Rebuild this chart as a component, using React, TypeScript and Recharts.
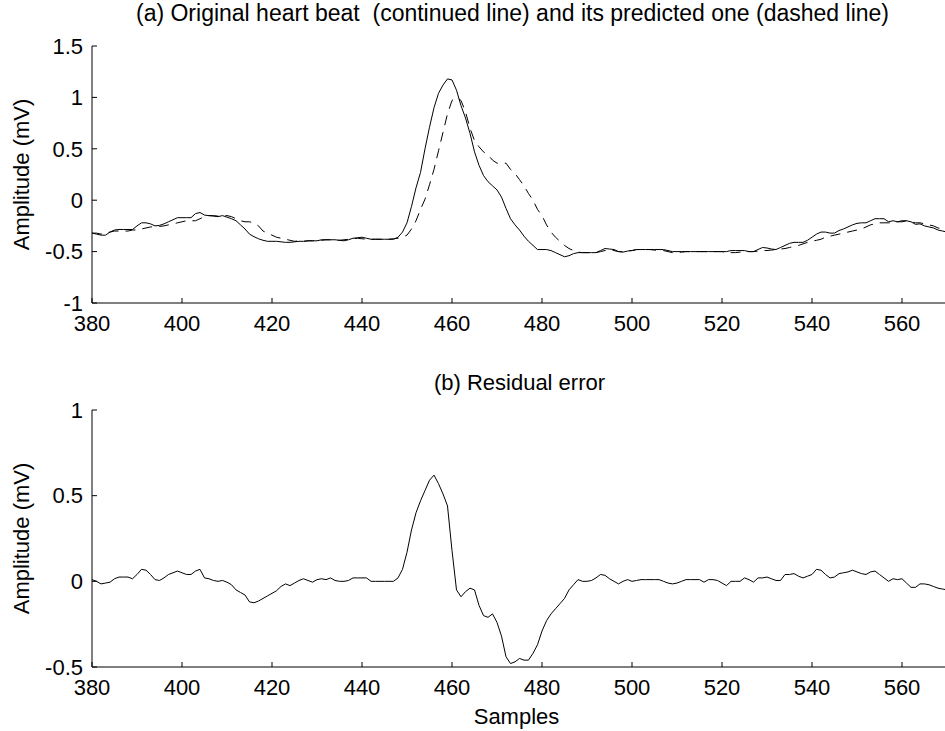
import React from 'react';
import { LineChart, Line, XAxis, YAxis } from 'recharts';

const FONT = '"Liberation Sans", Arial, Helvetica, sans-serif';

const FIRST_SAMPLE = 380;
const xTicks = [380, 400, 420, 440, 460, 480, 500, 520, 540, 560];
const topYTicks = [-1, -0.5, 0, 0.5, 1, 1.5];
const bottomYTicks = [-0.5, 0, 0.5, 1];

const titleTop = '(a) Original heart beat  (continued line) and its predicted one (dashed line)';
const titleBottom = '(b) Residual error';
const yLabelText = 'Amplitude (mV)';
const xLabelText = 'Samples';

// samples 380..570
const originalBeat = [
  -0.32, -0.33, -0.34, -0.34, -0.31, -0.29, -0.285, -0.285, -0.285, -0.285,
  -0.25, -0.22, -0.22, -0.23, -0.25, -0.245, -0.23, -0.21, -0.19, -0.17,
  -0.17, -0.17, -0.17, -0.13, -0.12, -0.145, -0.15, -0.155, -0.16, -0.15,
  -0.165, -0.18, -0.2, -0.24, -0.28, -0.33, -0.355, -0.375, -0.39, -0.4,
  -0.4, -0.4, -0.405, -0.41, -0.41, -0.405, -0.4, -0.4, -0.395, -0.395,
  -0.395, -0.385, -0.385, -0.385, -0.385, -0.39, -0.395, -0.385, -0.37, -0.365,
  -0.36, -0.37, -0.38, -0.38, -0.38, -0.38, -0.38, -0.38, -0.36, -0.31,
  -0.22, -0.06, 0.12, 0.27, 0.5, 0.71, 0.9, 1.04, 1.12, 1.18,
  1.17, 1.07, 0.92, 0.8, 0.65, 0.47, 0.34, 0.24, 0.18, 0.14,
  0.1, 0.03, -0.08, -0.18, -0.24, -0.29, -0.35, -0.4, -0.44, -0.48,
  -0.48, -0.48, -0.49, -0.51, -0.53, -0.55, -0.54, -0.52, -0.51, -0.51,
  -0.51, -0.51, -0.51, -0.49, -0.47, -0.475, -0.48, -0.5, -0.505, -0.495,
  -0.49, -0.48, -0.48, -0.48, -0.48, -0.48, -0.48, -0.48, -0.49, -0.5,
  -0.5, -0.5, -0.5, -0.5, -0.5, -0.5, -0.5, -0.5, -0.5, -0.5,
  -0.5, -0.5, -0.49, -0.49, -0.49, -0.49, -0.5, -0.5, -0.48, -0.46,
  -0.465, -0.475, -0.48, -0.46, -0.44, -0.42, -0.41, -0.41, -0.41, -0.39,
  -0.36, -0.33, -0.31, -0.31, -0.32, -0.32, -0.295, -0.28, -0.26, -0.24,
  -0.225, -0.22, -0.22, -0.2, -0.18, -0.18, -0.18, -0.21, -0.2, -0.21,
  -0.2, -0.2, -0.21, -0.235, -0.23, -0.25, -0.26, -0.27, -0.29, -0.3,
  -0.31,
];

const predictedBeat = [
  -0.32, -0.32, -0.33, -0.32, -0.31, -0.3, -0.3, -0.3, -0.3, -0.29,
  -0.29, -0.28, -0.27, -0.26, -0.26, -0.255, -0.25, -0.24, -0.23, -0.22,
  -0.21, -0.2, -0.2, -0.2, -0.18, -0.16, -0.15, -0.15, -0.155, -0.15,
  -0.15, -0.16, -0.18, -0.2, -0.21, -0.21, -0.22, -0.25, -0.3, -0.32,
  -0.34, -0.36, -0.37, -0.38, -0.39, -0.4, -0.395, -0.4, -0.395, -0.395,
  -0.39, -0.39, -0.385, -0.385, -0.39, -0.39, -0.385, -0.38, -0.375, -0.37,
  -0.375, -0.38, -0.38, -0.38, -0.38, -0.38, -0.38, -0.375, -0.37, -0.36,
  -0.34, -0.28, -0.2, -0.09, 0.01, 0.15, 0.3, 0.48, 0.66, 0.84,
  0.97, 1.0, 0.97, 0.86, 0.7, 0.58, 0.52, 0.47, 0.44, 0.39,
  0.36, 0.36, 0.36, 0.3, 0.26, 0.2, 0.14, 0.065, 0, -0.09,
  -0.15, -0.24, -0.31, -0.36, -0.4, -0.44, -0.47, -0.49, -0.505, -0.51,
  -0.51, -0.51, -0.51, -0.5, -0.49, -0.48, -0.49, -0.5, -0.5, -0.49,
  -0.49, -0.48, -0.48, -0.48, -0.48, -0.485, -0.49, -0.49, -0.5, -0.51,
  -0.51, -0.505, -0.5, -0.5, -0.5, -0.5, -0.5, -0.5, -0.5, -0.5,
  -0.5, -0.51, -0.51, -0.51, -0.505, -0.5, -0.5, -0.5, -0.495, -0.49,
  -0.49, -0.485, -0.48, -0.475, -0.47, -0.46, -0.45, -0.44, -0.425, -0.41,
  -0.4, -0.39, -0.38, -0.36, -0.35, -0.34, -0.33, -0.32, -0.31, -0.3,
  -0.29, -0.28, -0.26, -0.24, -0.23, -0.22, -0.22, -0.22, -0.22, -0.21,
  -0.21, -0.2, -0.21, -0.22, -0.22, -0.23, -0.24, -0.25, -0.27, -0.28,
  -0.29,
];

const residualError = [
  0.01, 0, -0.015, -0.01, -0.005, 0.015, 0.025, 0.025, 0.025, 0.015,
  0.04, 0.07, 0.065, 0.04, 0.01, 0.005, 0.02, 0.04, 0.05, 0.06,
  0.05, 0.04, 0.04, 0.06, 0.07, 0.02, 0.015, 0.005, 0, 0.005,
  -0.005, -0.02, -0.05, -0.065, -0.08, -0.12, -0.125, -0.115, -0.1, -0.085,
  -0.07, -0.055, -0.03, -0.015, -0.025, -0.01, 0.005, 0.015, 0.005, -0.005,
  0.01, 0.015, 0.01, 0.02, 0.005, 0, 0, 0.005, 0.02, 0.02,
  0.02, 0.02, 0, 0, 0, 0, 0, 0, 0.02, 0.07,
  0.17, 0.3, 0.4, 0.47, 0.53, 0.59, 0.62, 0.57, 0.51, 0.44,
  0.18, -0.05, -0.09, -0.06, -0.04, -0.05, -0.14, -0.2, -0.21, -0.19,
  -0.24, -0.32, -0.44, -0.48, -0.47, -0.45, -0.46, -0.46, -0.42, -0.37,
  -0.29, -0.23, -0.19, -0.16, -0.13, -0.1, -0.05, -0.02, 0.01, 0,
  0, 0.005, 0.02, 0.04, 0.035, 0.015, 0, -0.015, 0, 0.01,
  0, 0.005, 0.01, 0.01, 0.01, 0.01, 0.01, 0, -0.01, -0.015,
  -0.01, 0, 0.01, 0.01, 0.01, 0.01, -0.005, 0.01, 0.01, 0.005,
  -0.01, -0.025, 0, 0, 0, 0.02, 0.01, -0.005, 0.02, 0.02,
  0.025, 0.015, 0.005, 0.005, 0.04, 0.04, 0.045, 0.03, 0.02, 0.03,
  0.04, 0.07, 0.065, 0.04, 0.02, 0.025, 0.045, 0.05, 0.055, 0.065,
  0.055, 0.045, 0.04, 0.055, 0.06, 0.04, 0.02, 0, 0.015, 0.01,
  0.015, -0.01, -0.035, -0.035, -0.015, -0.015, -0.02, -0.03, -0.04, -0.045,
  -0.05,
];

const topData = originalBeat.map((v, i) => ({
  sample: FIRST_SAMPLE + i,
  original: v,
  predicted: predictedBeat[i],
}));
const bottomData = residualError.map((v, i) => ({ sample: FIRST_SAMPLE + i, residual: v }));

const tickStyle = { fill: '#000', fontSize: 22, fontFamily: FONT };
const lineStyle = { stroke: '#000', strokeWidth: 1 };

const YLabel = (props: any) => {
  const vb = props.viewBox || { x: 0, y: 0, width: 92, height: 257 };
  const cx = vb.x + 21;
  const cy = vb.y + vb.height / 2;
  return (
    <text
      x={cx}
      y={cy}
      transform={`rotate(-90, ${cx}, ${cy})`}
      textAnchor="middle"
      dominantBaseline="central"
      fill="#000"
      fontSize={22}
      fontFamily={FONT}
    >
      {yLabelText}
    </text>
  );
};

const XLabel = (props: any) => {
  const vb = props.viewBox || { x: 92, y: 327, width: 855, height: 64 };
  return (
    <text
      x={vb.x + vb.width / 2 - 3}
      y={vb.y + 57}
      textAnchor="middle"
      fill="#000"
      fontSize={22}
      fontFamily={FONT}
    >
      {xLabelText}
    </text>
  );
};

const titleStyle: React.CSSProperties = {
  position: 'absolute',
  left: 92,
  width: 855,
  textAlign: 'center',
  fontFamily: FONT,
  fontSize: 22,
  lineHeight: '26px',
  color: '#000',
  whiteSpace: 'pre',
};

export default function App() {
  return (
    <div
      style={{
        position: 'absolute',
        left: 0,
        top: 0,
        width: 945,
        height: 731,
        overflow: 'hidden',
        background: '#fff',
      }}
    >
      <div style={{ ...titleStyle, top: 0, left: 85, fontSize: 23 }}>{titleTop}</div>
      <div style={{ position: 'absolute', left: 0, top: 0 }}>
        <LineChart width={947} height={340} data={topData} margin={{ top: 46, right: 0, bottom: 0, left: 0 }}>
          <XAxis
            dataKey="sample"
            type="number"
            domain={[380, 570]}
            ticks={xTicks}
            interval={0}
            height={37}
            tickSize={-5}
            tickMargin={17}
            tick={tickStyle}
            axisLine={lineStyle}
            tickLine={lineStyle}
          />
          <YAxis
            type="number"
            domain={[-1, 1.5]}
            ticks={topYTicks}
            interval={0}
            width={92}
            tickSize={-5}
            tickMargin={14}
            tick={tickStyle}
            axisLine={lineStyle}
            tickLine={lineStyle}
            label={<YLabel />}
          />
          <Line
            type="linear"
            dataKey="predicted"
            stroke="#000"
            strokeWidth={1}
            strokeDasharray="10 7"
            dot={false}
            activeDot={false}
            isAnimationActive={false}
          />
          <Line
            type="linear"
            dataKey="original"
            stroke="#000"
            strokeWidth={1}
            dot={false}
            activeDot={false}
            isAnimationActive={false}
          />
        </LineChart>
      </div>
      <div style={{ ...titleStyle, top: 370 }}>{titleBottom}</div>
      <div style={{ position: 'absolute', left: 0, top: 340 }}>
        <LineChart width={947} height={391} data={bottomData} margin={{ top: 70, right: 0, bottom: 0, left: 0 }}>
          <XAxis
            dataKey="sample"
            type="number"
            domain={[380, 570]}
            ticks={xTicks}
            interval={0}
            height={64}
            tickSize={-5}
            tickMargin={17}
            tick={tickStyle}
            axisLine={lineStyle}
            tickLine={lineStyle}
            label={<XLabel />}
          />
          <YAxis
            type="number"
            domain={[-0.5, 1]}
            ticks={bottomYTicks}
            interval={0}
            width={92}
            tickSize={-5}
            tickMargin={14}
            tick={tickStyle}
            axisLine={lineStyle}
            tickLine={lineStyle}
            label={<YLabel />}
          />
          <Line
            type="linear"
            dataKey="residual"
            stroke="#000"
            strokeWidth={1}
            dot={false}
            activeDot={false}
            isAnimationActive={false}
          />
        </LineChart>
      </div>
    </div>
  );
}
